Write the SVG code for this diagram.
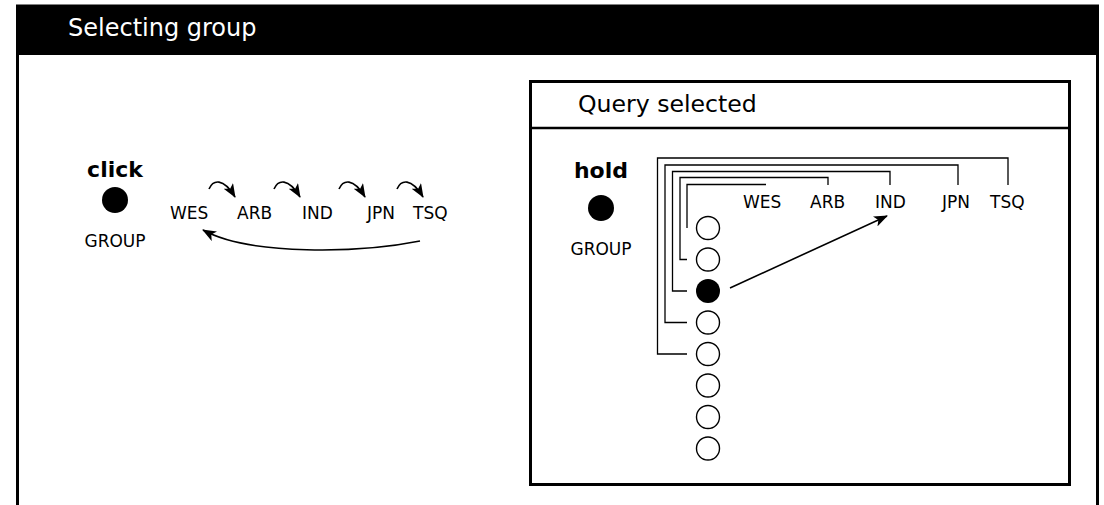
<svg xmlns="http://www.w3.org/2000/svg" width="1104" height="505" viewBox="0 0 1104 505">
<style>
.t{font-family:"DejaVu Sans",sans-serif;fill:#000}
.lbl{font-size:17px}
.b{font-size:22px;font-weight:bold;text-anchor:middle}
.ln{fill:none;stroke:#000;stroke-width:1.3}
.ar{fill:none;stroke:#000;stroke-width:1.6}
.oc{fill:#fff;stroke:#000;stroke-width:1.4}
</style>
<defs>
<marker id="ah" viewBox="0 0 14 11" refX="13" refY="5.5" markerWidth="14" markerHeight="11" markerUnits="userSpaceOnUse" orient="auto">
<path d="M0,0 L14,5.5 L0,11 L3.5,5.5 z" fill="#000"/>
</marker>
</defs>
<rect width="1104" height="505" fill="#fff"/>
<g id="frame">
<rect x="17.5" y="6" width="1080" height="600" fill="none" stroke="#000" stroke-width="3"/>
<rect x="16" y="6" width="1083" height="49" fill="#000"/>
<text x="68" y="36" class="t" style="font-size:24px;fill:#fff">Selecting group</text>
</g>
<g id="click-group">
<text x="115" y="177" class="t b">click</text>
<circle cx="115" cy="200" r="13" fill="#000"/>
<text x="115" y="247" class="t lbl" text-anchor="middle">GROUP</text>
</g>
<g id="left-labels">
<text x="170" y="219" class="t lbl">WES</text>
<text x="237" y="219" class="t lbl">ARB</text>
<text x="302" y="219" class="t lbl">IND</text>
<text x="367" y="219" class="t lbl">JPN</text>
<text x="413" y="219" class="t lbl">TSQ</text>
</g>
<g id="left-connectors">
<path class="ar" d="M209 189 C213 180, 223 177, 235 197" marker-end="url(#ah)"/>
<path class="ar" d="M274 189 C278 180, 288 177, 300 197" marker-end="url(#ah)"/>
<path class="ar" d="M339 189 C343 180, 353 177, 365 197" marker-end="url(#ah)"/>
<path class="ar" d="M397 189 C401 180, 411 177, 423 197" marker-end="url(#ah)"/>
<path class="ar" d="M420 241 C360 253, 250 256, 203 230" marker-end="url(#ah)"/>
</g>
<g id="query-box">
<rect x="530.5" y="81.5" width="539" height="403" fill="#fff" stroke="#000" stroke-width="3"/>
<line x1="530" y1="128" x2="1070" y2="128" stroke="#000" stroke-width="2.5"/>
<text x="578" y="112" class="t" style="font-size:23.6px">Query selected</text>
</g>
<g id="hold-group">
<text x="601" y="178" class="t b">hold</text>
<circle cx="601" cy="208" r="13" fill="#000"/>
<text x="601" y="255" class="t lbl" text-anchor="middle">GROUP</text>
</g>
<g id="right-labels">
<text x="743" y="208" class="t lbl">WES</text>
<text x="810" y="208" class="t lbl">ARB</text>
<text x="875" y="208" class="t lbl">IND</text>
<text x="942" y="208" class="t lbl">JPN</text>
<text x="990" y="208" class="t lbl">TSQ</text>
</g>
<g id="slots">
<circle class="oc" cx="708" cy="228" r="11.5"/>
<circle class="oc" cx="708" cy="259.5" r="11.5"/>
<circle cx="708" cy="291" r="12" fill="#000"/>
<circle class="oc" cx="708" cy="322.5" r="11.5"/>
<circle class="oc" cx="708" cy="354" r="11.5"/>
<circle class="oc" cx="708" cy="385.5" r="11.5"/>
<circle class="oc" cx="708" cy="417" r="11.5"/>
<circle class="oc" cx="708" cy="448.5" r="11.5"/>
</g>
<g id="right-connectors">
<path class="ln" d="M687 228 V184.5 H766"/>
<path class="ln" d="M687 259.5 H680 V177.5 H828 V185"/>
<path class="ln" d="M687 291 H672.5 V171.5 H890 V185"/>
<path class="ln" d="M687 322.5 H665 V165 H958 V185"/>
<path class="ln" d="M687 354 H657.5 V158 H1008 V185"/>
<path class="ar" d="M730 288 L887 216" marker-end="url(#ah)"/>
</g>
</svg>
